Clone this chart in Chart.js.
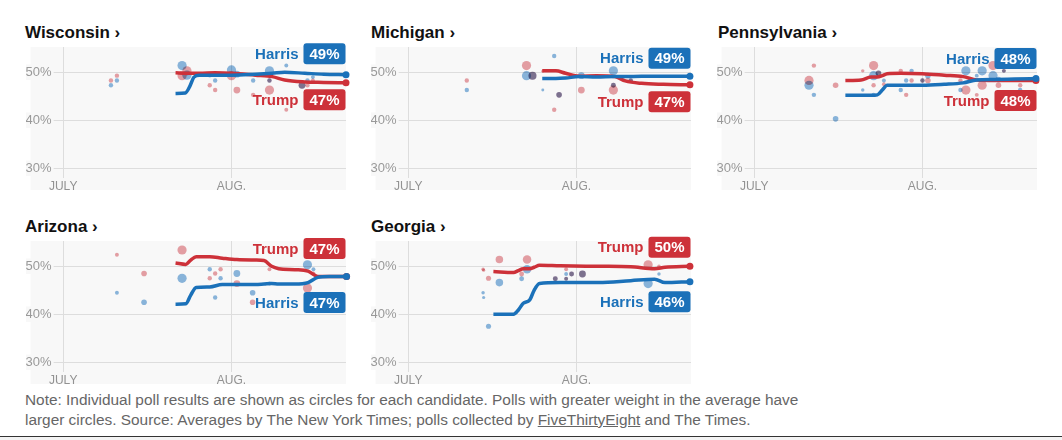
<!DOCTYPE html>
<html>
<head>
<meta charset="utf-8">
<script src="https://cdn.jsdelivr.net/npm/chart.js@4.4.1/dist/chart.umd.min.js"></script>
<style>
  body { margin: 0; background: #fff; width: 1062px; height: 440px; position: relative; overflow: hidden; font-family: "Liberation Sans", Arial, sans-serif; }
  .title { position: absolute; font-weight: bold; font-size: 17px; line-height: 20px; color: #111; }
  .panel { position: absolute; }
  .note { position: absolute; left: 25px; top: 390px; font-size: 15.4px; line-height: 20px; color: #666; }
  .note u { text-decoration: underline; }
  .rule { position: absolute; left: 0; top: 436px; width: 1062px; height: 4px; border-top: 1px solid #333; background: #f3f3f3; }
</style>
</head>
<body>
<div class="title" style="left:25px;top:23px">Wisconsin ›</div>
<div class="title" style="left:371px;top:23px">Michigan ›</div>
<div class="title" style="left:718px;top:23px">Pennsylvania ›</div>
<div class="title" style="left:25px;top:217px">Arizona ›</div>
<div class="title" style="left:371px;top:217px">Georgia ›</div>

<canvas class="panel" id="wi" width="326" height="151" style="left:26px;top:39px"></canvas>
<canvas class="panel" id="mi" width="326" height="151" style="left:371px;top:39px"></canvas>
<canvas class="panel" id="pa" width="326" height="151" style="left:717px;top:39px"></canvas>
<canvas class="panel" id="az" width="326" height="151" style="left:26px;top:233px"></canvas>
<canvas class="panel" id="ga" width="326" height="151" style="left:371px;top:233px"></canvas>

<div class="note">Note: Individual poll results are shown as circles for each candidate. Polls with greater weight in the average have<br>larger circles. Source: Averages by The New York Times; polls collected by <u>FiveThirtyEight</u> and The Times.</div>
<div class="rule"></div>

<script>
// x values are days counted from July 1
const monthTickDays = [0, 31]
const monthTickLabels = ['JULY', 'AUG.']
const percentTicks = [30, 40, 50]

const wiAvgDays = [20.7, 22.5, 23.3, 24.1, 25.1, 28, 31, 35.4, 38.5, 40.8, 44.5, 48, 52.1]
const wiHarrisAvg = [45.6, 45.7, 47.0, 49.0, 49.4, 49.4, 49.4, 49.6, 49.8, 50.0, 49.8, 49.6, 49.5]
const wiTrumpAvg = [49.9, 49.8, 49.8, 49.8, 49.8, 49.9, 49.8, 49.4, 49.1, 48.4, 48.0, 47.9, 47.8]
const wiPollDays = [8.8, 9.9, 21.9, 22.8, 27, 28, 31, 32, 35, 38, 38, 41.1, 44, 45, 46]
const wiHarrisPolls = [47.3, 48.3, 51.4, 49.4, 49.4, 48.3, 50.5, 49.6, 48.3, 50.3, 48.3, 51.4, 47.3, 48.3, 49.0]
const wiTrumpPolls = [48.3, 49.3, 49.3, 50.3, 47.3, 46.3, 49.3, 46.3, 45.3, 46.3, 48.3, 42.2, 47.3, 47.3, 48.3]
const wiPollWeights = [1, 1, 3, 3, 1, 1, 3, 2, 1, 3, 1, 0.8, 2, 1, 0.8]

const miAvgDays = [24.7, 27.2, 29, 31.5, 34.7, 38.1, 40, 43, 47, 51.9]
const miHarrisAvg = [48.7, 48.7, 48.8, 49.1, 49.0, 49.1, 49.1, 49.2, 49.2, 49.2]
const miTrumpAvg = [50.3, 50.3, 49.8, 49.2, 49.3, 49.1, 48.2, 47.7, 47.5, 47.4]
const miPollDays = [10.8, 21.8, 22.9, 24.8, 26.9, 27.8, 31.9, 37.8, 37.8, 41]
const miHarrisPolls = [46.3, 49.3, 49.3, 46.3, 53.4, 45.3, 49.3, 50.3, 47.3, 48.3]
const miTrumpPolls = [48.3, 51.4, 49.3, 50.2, 42.2, 45.3, 46.3, 46.3, 47.3, 48.3]
const miPollWeights = [1, 3, 2.5, 0.4, 1, 1.5, 2, 3, 1.2, 1]

const paAvgDays = [16.8, 19.7, 21.5, 22.7, 23.6, 24.5, 27, 31, 35, 38.5, 41, 44.3, 48, 51.9]
const paHarrisAvg = [45.2, 45.2, 45.2, 45.3, 46.3, 47.3, 47.3, 47.3, 47.5, 47.8, 48.4, 48.5, 48.6, 48.7]
const paTrumpAvg = [48.3, 48.4, 49.0, 49.0, 49.3, 49.7, 49.8, 49.7, 49.4, 49.1, 48.4, 48.3, 48.3, 48.3]
const paPollDays = [10.1, 11, 15, 20, 22, 22, 22.9, 23.9, 27, 28, 29, 31, 32, 38, 39, 41, 42, 44, 45, 46, 49]
const paHarrisPolls = [47.3, 45.3, 40.3, 46.3, 49.3, 45.3, 49.8, 48.3, 46.3, 48.3, 50.3, 48.3, 49.3, 46.3, 50.3, 49.3, 50.3, 49.3, 48.5, 50.3, 46.3]
const paTrumpPolls = [48.3, 51.4, 47.3, 50.3, 51.4, 47.3, 49.8, 47.5, 50.3, 45.3, 48.3, 48.3, 48.3, 48.3, 46.3, 45.3, 47.3, 51.4, 47.3, 50.3, 47.3]
const paPollWeights = [3, 1, 1.5, 0.6, 3, 1, 1.5, 0.8, 1, 1, 1, 1, 1.5, 1, 3, 0.8, 3, 3, 1.5, 0.8, 1]

const azAvgDays = [20.7, 22.6, 23.5, 24.5, 27, 29.3, 32, 35.4, 37, 38.4, 39.7, 42.7, 45.1, 46.9, 49, 52.2]
const azHarrisAvg = [42.1, 42.2, 44.0, 45.6, 45.7, 46.2, 46.2, 46.2, 46.3, 46.4, 46.3, 46.3, 46.6, 47.7, 47.9, 47.9]
const azTrumpAvg = [50.7, 50.4, 51.3, 52.0, 52.0, 51.7, 51.4, 51.3, 51.2, 50.0, 49.5, 49.3, 49.0, 47.9, 47.9, 47.9]
const azPollDays = [9.9, 14.9, 21.9, 27, 28, 29, 32, 34.9, 38, 45, 46.1]
const azHarrisPolls = [44.5, 42.5, 47.5, 49.4, 43.5, 47.5, 48.5, 44.5, 46.4, 50.3, 49.4]
const azTrumpPolls = [52.4, 48.5, 53.4, 47.5, 48.5, 49.4, 46.4, 42.5, 49.4, 45.5, 48.5]
const azPollWeights = [0.8, 1.5, 3, 1, 1, 1, 2, 1.5, 0.8, 3, 0.8]

const gaAvgDays = [15.7, 19.4, 20.3, 21.2, 22.4, 23.2, 24.2, 28, 35.1, 41, 45.4, 47.3, 51.9]
const gaHarrisAvg = [40.0, 40.0, 40.9, 42.3, 43.0, 45.0, 46.4, 46.6, 46.6, 47.0, 47.3, 46.6, 46.8]
const gaTrumpAvg = [48.9, 48.7, 49.1, 49.5, 49.5, 49.8, 50.2, 50.1, 50.0, 49.9, 49.5, 49.8, 50.0]
const gaPollDays = [13.8, 13.9, 14.8, 16.8, 20.9, 21.9, 27.1, 29.1, 29.1, 30.1, 32.1, 44.2, 46.2]
const gaHarrisPolls = [44.5, 43.5, 37.5, 46.6, 47.4, 49.4, 47.4, 48.4, 47.4, 48.4, 48.4, 46.4, 48.4]
const gaTrumpPolls = [49.4, 49.2, 47.5, 51.4, 48.4, 51.4, 47.4, 49.4, 47.4, 48.4, 48.4, 50.3, 50.0]
const gaPollWeights = [0.6, 0.5, 1.3, 2.3, 1.2, 2.7, 1.2, 0.8, 0.8, 1.2, 2, 3, 0.6]

// final averages shown in the labels
const finalHarris = { wi: 49, mi: 49, pa: 48, az: 47, ga: 46 }
const finalTrump = { wi: 47, mi: 47, pa: 48, az: 47, ga: 50 }

const HARRIS = '#1b71b9'
const TRUMP = '#cd3139'
const HARRIS_DOT = 'rgba(70, 140, 205, 0.62)'
const TRUMP_DOT = 'rgba(215, 85, 95, 0.55)'
const BG = '#f8f8f8'
const FONT = '"Liberation Sans", Arial, sans-serif'

const pts = (xs, ys) => xs.map((x, i) => ({ x: x, y: ys[i] }))
const dotRadius = (w) => 1 + 1.2 * w

const bgPlugin = {
    id: 'bg',
    beforeDraw(chart) {
        const { ctx, chartArea } = chart
        ctx.save()
        ctx.fillStyle = BG
        ctx.fillRect(chartArea.left, chartArea.top, chartArea.width, chart.height - chartArea.top)
        ctx.restore()
    },
    beforeDatasetDraw(chart, args) {
        if (chart.data.datasets[args.index].type === 'scatter') {
            chart.ctx.save()
            chart.ctx.globalCompositeOperation = 'multiply'
        }
    },
    afterDatasetDraw(chart, args) {
        if (chart.data.datasets[args.index].type === 'scatter') {
            chart.ctx.restore()
        }
    },
}

const labelPlugin = {
    id: 'endLabels',
    afterDatasetsDraw(chart, args, opts) {
        const { ctx, chartArea } = chart
        const y = chart.scales.y
        const hy = y.getPixelForValue(opts.harrisEnd)
        const ty = y.getPixelForValue(opts.trumpEnd)
        const topY = Math.min(hy, ty) - opts.gapAbove
        const botY = Math.max(hy, ty) + opts.gapBelow
        const items = [
            { name: 'Harris', pct: opts.harrisLabel, color: HARRIS, cy: opts.harrisOnTop ? topY : botY },
            { name: 'Trump', pct: opts.trumpLabel, color: TRUMP, cy: opts.harrisOnTop ? botY : topY },
        ]
        ctx.save()
        ctx.font = 'bold 15px ' + FONT
        ctx.textBaseline = 'middle'
        items.forEach((it) => {
            const txt = it.pct + '%'
            const w = ctx.measureText(txt).width + 12
            const h = 21
            const right = chartArea.right - 0.5
            const left = right - w
            ctx.fillStyle = it.color
            ctx.beginPath()
            ctx.roundRect(left, it.cy - h / 2, w, h, 3)
            ctx.fill()
            ctx.fillStyle = '#fff'
            ctx.textAlign = 'center'
            ctx.fillText(txt, left + w / 2, it.cy + 1)
            ctx.fillStyle = it.color
            ctx.textAlign = 'right'
            ctx.fillText(it.name, left - 5, it.cy + 1)
        })
        ctx.restore()
    },
}

function buildPanel(id, avgDays, harrisAvg, trumpAvg, pollDays, harrisPolls, trumpPolls, weights, harrisOnTop, gapAbove, gapBelow) {
    const lastIdx = avgDays.length - 1
    const endPoint = (ctx) => (ctx.dataIndex === lastIdx ? 3.5 : 0)

    new Chart(document.getElementById(id), {
        type: 'line',
        data: {
            datasets: [
                {
                    label: 'Harris',
                    data: pts(avgDays, harrisAvg),
                    borderColor: HARRIS,
                    backgroundColor: HARRIS,
                    borderWidth: 3.5,
                    pointRadius: endPoint,
                    pointBorderWidth: 0,
                    cubicInterpolationMode: 'monotone',
                    clip: 8,
                    order: 0,
                },
                {
                    label: 'Trump',
                    data: pts(avgDays, trumpAvg),
                    borderColor: TRUMP,
                    backgroundColor: TRUMP,
                    borderWidth: 3.5,
                    pointRadius: endPoint,
                    pointBorderWidth: 0,
                    cubicInterpolationMode: 'monotone',
                    clip: 8,
                    order: 1,
                },
                {
                    type: 'scatter',
                    label: 'Trump polls',
                    data: pts(pollDays, trumpPolls),
                    backgroundColor: TRUMP_DOT,
                    borderWidth: 0,
                    pointRadius: (ctx) => dotRadius(weights[ctx.dataIndex]),
                    clip: 8,
                    order: 3,
                },
                {
                    type: 'scatter',
                    label: 'Harris polls',
                    data: pts(pollDays, harrisPolls),
                    backgroundColor: HARRIS_DOT,
                    borderWidth: 0,
                    pointRadius: (ctx) => dotRadius(weights[ctx.dataIndex]),
                    clip: 8,
                    order: 2,
                },
            ],
        },
        options: {
            responsive: false,
            animation: false,
            events: [],
            layout: { padding: { top: 8, right: 6, left: 0, bottom: 0 } },
            plugins: {
                legend: { display: false },
                tooltip: { enabled: false },
                endLabels: {
                    harrisEnd: harrisAvg[lastIdx],
                    trumpEnd: trumpAvg[lastIdx],
                    harrisLabel: finalHarris[id],
                    trumpLabel: finalTrump[id],
                    harrisOnTop: harrisOnTop,
                    gapAbove: gapAbove,
                    gapBelow: gapBelow,
                },
            },
            scales: {
                x: {
                    type: 'linear',
                    min: -6,
                    max: 52.1,
                    afterFit: (sc) => { sc.height = 12 },
                    afterBuildTicks: (sc) => { sc.ticks = monthTickDays.map((v) => ({ value: v })) },
                    ticks: {
                        callback: (v, i) => monthTickLabels[i],
                        color: '#929292',
                        font: { size: 12, family: FONT },
                        padding: 1,
                        maxRotation: 0,
                        autoSkip: false,
                    },
                    grid: { color: '#dddddd', drawTicks: false },
                    border: { display: false },
                },
                y: {
                    min: 27.98,
                    max: 55.27,
                    afterFit: (sc) => { sc.width = 0 },
                    afterBuildTicks: (sc) => { sc.ticks = percentTicks.map((v) => ({ value: v })) },
                    ticks: {
                        mirror: true,
                        padding: -5,
                        callback: (v) => v + '%',
                        color: '#999',
                        font: { size: 13, family: FONT },
                        showLabelBackdrop: true,
                        backdropColor: BG,
                        backdropPadding: { top: 0, bottom: 0, left: 0, right: 2 },
                    },
                    grid: { color: '#dddddd', drawTicks: false },
                    border: { display: false },
                },
            },
        },
        plugins: [bgPlugin, labelPlugin],
    })
}

buildPanel('wi', wiAvgDays, wiHarrisAvg, wiTrumpAvg, wiPollDays, wiHarrisPolls, wiTrumpPolls, wiPollWeights, true, 21, 17)
buildPanel('mi', miAvgDays, miHarrisAvg, miTrumpAvg, miPollDays, miHarrisPolls, miTrumpPolls, miPollWeights, true, 18, 17)
buildPanel('pa', paAvgDays, paHarrisAvg, paTrumpAvg, paPollDays, paHarrisPolls, paTrumpPolls, paPollWeights, true, 20, 20)
buildPanel('az', azAvgDays, azHarrisAvg, azTrumpAvg, azPollDays, azHarrisPolls, azTrumpPolls, azPollWeights, false, 28, 26)
buildPanel('ga', gaAvgDays, gaHarrisAvg, gaTrumpAvg, gaPollDays, gaHarrisPolls, gaTrumpPolls, gaPollWeights, false, 19, 20)
</script>
</body>
</html>
